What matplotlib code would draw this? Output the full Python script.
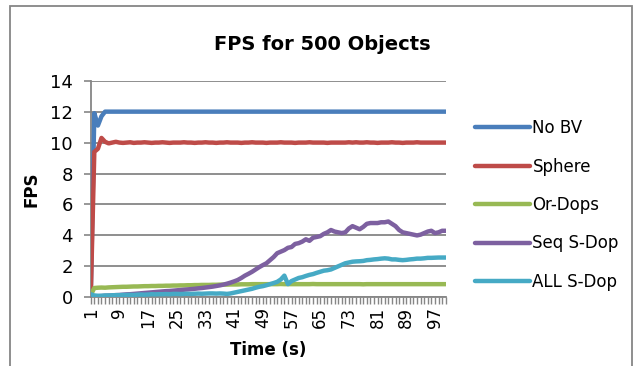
import matplotlib
matplotlib.use('Agg')
import matplotlib.pyplot as plt
from matplotlib.patches import Rectangle

plt.rcParams['font.family'] = ['DejaVu Sans']

# time axis categories (seconds)
time_s = list(range(1, 101))
tick_labels = [str(t) for t in range(1, 98, 8)]

no_bv = [0, 11.9, 11.1, 11.7, 12.0, 12.0, 12.0, 12.0, 12.0, 12.0,
         12.0, 12.0, 12.0, 12.0, 12.0, 12.0, 12.0, 12.0, 12.0, 12.0,
         12.0, 12.0, 12.0, 12.0, 12.0, 12.0, 12.0, 12.0, 12.0, 12.0,
         12.0, 12.0, 12.0, 12.0, 12.0, 12.0, 12.0, 12.0, 12.0, 12.0,
         12.0, 12.0, 12.0, 12.0, 12.0, 12.0, 12.0, 12.0, 12.0, 12.0,
         12.0, 12.0, 12.0, 12.0, 12.0, 12.0, 12.0, 12.0, 12.0, 12.0,
         12.0, 12.0, 12.0, 12.0, 12.0, 12.0, 12.0, 12.0, 12.0, 12.0,
         12.0, 12.0, 12.0, 12.0, 12.0, 12.0, 12.0, 12.0, 12.0, 12.0,
         12.0, 12.0, 12.0, 12.0, 12.0, 12.0, 12.0, 12.0, 12.0, 12.0,
         12.0, 12.0, 12.0, 12.0, 12.0, 12.0, 12.0, 12.0, 12.0, 12.0]

sphere = [0, 9.4, 9.6, 10.3, 10.05, 9.95, 10.0, 10.05, 10.0, 9.98,
          10.0, 10.02, 9.98, 10.0, 10.0, 10.02, 10.0, 9.98, 10.0, 10.0,
          10.02, 10.0, 9.98, 10.0, 10.0, 10.0, 10.02, 10.0, 10.0, 9.98,
          10.0, 10.0, 10.02, 10.0, 10.0, 9.98, 10.0, 10.0, 10.02, 10.0,
          10.0, 10.0, 9.98, 10.0, 10.0, 10.02, 10.0, 10.0, 10.0, 9.98,
          10.0, 10.0, 10.0, 10.02, 10.0, 10.0, 10.0, 9.98, 10.0, 10.0,
          10.0, 10.02, 10.0, 10.0, 10.0, 10.0, 9.98, 10.0, 10.0, 10.0,
          10.0, 10.0, 10.02, 10.0, 10.02, 10.0, 10.0, 10.02, 10.0, 10.0,
          9.98, 10.0, 10.0, 10.0, 10.02, 10.0, 10.0, 9.98, 10.0, 10.0,
          10.0, 10.02, 10.0, 10.0, 10.0, 10.0, 10.0, 10.0, 10.0, 10.0]

or_dops = [0.15, 0.6, 0.62, 0.63, 0.62, 0.64, 0.65, 0.66, 0.67, 0.68,
           0.68, 0.69, 0.7, 0.7, 0.71, 0.72, 0.72, 0.73, 0.73, 0.74,
           0.74, 0.75, 0.75, 0.76, 0.76, 0.77, 0.77, 0.78, 0.78, 0.79,
           0.79, 0.8, 0.8, 0.8, 0.81, 0.81, 0.82, 0.82, 0.82, 0.83,
           0.83, 0.83, 0.84, 0.84, 0.84, 0.85, 0.85, 0.85, 0.85, 0.85,
           0.85, 0.85, 0.85, 0.86, 0.85, 0.85, 0.85, 0.85, 0.85, 0.85,
           0.85, 0.85, 0.86, 0.85, 0.85, 0.85, 0.85, 0.85, 0.85, 0.85,
           0.85, 0.85, 0.85, 0.85, 0.85, 0.85, 0.84, 0.85, 0.85, 0.85,
           0.85, 0.85, 0.85, 0.85, 0.85, 0.85, 0.85, 0.85, 0.85, 0.85,
           0.85, 0.85, 0.85, 0.85, 0.85, 0.85, 0.85, 0.85, 0.85, 0.85]

seq_sdop = [0.05, 0.06, 0.07, 0.08, 0.1, 0.11, 0.12, 0.14, 0.15, 0.17,
            0.19, 0.2, 0.22, 0.24, 0.26, 0.28, 0.3, 0.32, 0.34, 0.36,
            0.38, 0.4, 0.41, 0.43, 0.45, 0.47, 0.49, 0.51, 0.53, 0.55,
            0.58, 0.6, 0.63, 0.66, 0.69, 0.73, 0.77, 0.82, 0.88, 0.95,
            1.03, 1.12, 1.25, 1.4, 1.52, 1.65, 1.8, 1.95, 2.08, 2.2,
            2.4, 2.6, 2.85, 2.95, 3.05, 3.2, 3.25, 3.45, 3.5, 3.6,
            3.75, 3.65, 3.85, 3.9, 3.95, 4.1, 4.2, 4.35, 4.25, 4.2,
            4.15, 4.2, 4.45, 4.6, 4.5, 4.4, 4.55, 4.75, 4.8, 4.8,
            4.8, 4.85, 4.85, 4.9, 4.75, 4.6, 4.35, 4.2, 4.15, 4.1,
            4.05, 4.0, 4.05, 4.15, 4.25, 4.3, 4.15, 4.2, 4.3, 4.3]

all_sdop = [0.2, 0.12, 0.1, 0.1, 0.12, 0.12, 0.13, 0.14, 0.14, 0.15,
            0.15, 0.16, 0.15, 0.17, 0.18, 0.17, 0.18, 0.2, 0.19, 0.2,
            0.2, 0.21, 0.2, 0.22, 0.22, 0.21, 0.22, 0.23, 0.22, 0.23,
            0.24, 0.23, 0.24, 0.25, 0.25, 0.24, 0.25, 0.24, 0.22, 0.25,
            0.3, 0.35, 0.4, 0.45, 0.5, 0.55, 0.62, 0.68, 0.72, 0.78,
            0.85, 0.92, 1.0, 1.15, 1.4, 0.85, 1.05, 1.15, 1.25, 1.3,
            1.38, 1.45, 1.5, 1.58, 1.65, 1.72, 1.75, 1.8, 1.9, 2.0,
            2.1, 2.2, 2.25, 2.3, 2.32, 2.33, 2.35, 2.4, 2.42, 2.45,
            2.47, 2.5, 2.52, 2.5, 2.45, 2.45, 2.42, 2.4, 2.42, 2.45,
            2.47, 2.5, 2.5, 2.52, 2.55, 2.55, 2.56, 2.57, 2.57, 2.57]

series = [('No BV', no_bv, '#4a7ebb'),
          ('Sphere', sphere, '#be4b48'),
          ('Or-Dops', or_dops, '#98b954'),
          ('Seq S-Dop', seq_sdop, '#7d60a0'),
          ('ALL S-Dop', all_sdop, '#46aac5')]

grey = '#868686'

fig = plt.figure(figsize=(6.38, 3.66), dpi=100)
ax = fig.add_axes([0.1422, 0.1877, 0.5564, 0.5918])

for name, vals, col in series:
    ax.plot(time_s, vals, color=col, lw=3.2, label=name,
            solid_capstyle='round', solid_joinstyle='round', zorder=3)

ax.set_xlim(1, 100)
ax.set_ylim(0, 14)
ax.set_yticks(range(0, 15, 2))
ax.set_xticks(time_s, minor=True)
ax.set_xticks(range(1, 98, 8))
ax.set_xticklabels(tick_labels, rotation=90)
ax.grid(axis='y', color=grey, lw=1.3)
ax.set_axisbelow(True)

for s in ['top', 'right']:
    ax.spines[s].set_visible(False)
for s in ['left', 'bottom']:
    ax.spines[s].set_color(grey)
    ax.spines[s].set_linewidth(1.3)

ax.tick_params(axis='y', direction='out', length=5, color=grey, width=1.2,
               labelsize=13, pad=8)
ax.tick_params(axis='x', which='both', direction='out', length=5, color=grey,
               width=1.0, labelsize=12, pad=2)

ax.set_xlabel('Time (s)', fontsize=12, fontweight='bold', labelpad=9)
ax.set_ylabel('FPS', fontsize=12, fontweight='bold', labelpad=7)

fig.text(322 / 638, 1 - 45 / 366, 'FPS for 500 Objects', ha='center',
         va='center', fontsize=14, fontweight='bold')

ax.legend(loc='upper left', bbox_to_anchor=(475 / 638, 1 - 119 / 366),
          bbox_transform=fig.transFigure, frameon=False, fontsize=12,
          handlelength=3.3, handletextpad=0.15, labelspacing=1.23,
          borderpad=0, borderaxespad=0)

# outer chart border
fig.add_artist(Rectangle((10 / 638, -0.05), 622 / 638, 1.05 - 6 / 366,
                         transform=fig.transFigure, fill=False,
                         edgecolor=grey, lw=1.3))

plt.savefig('out.png', dpi=100)
